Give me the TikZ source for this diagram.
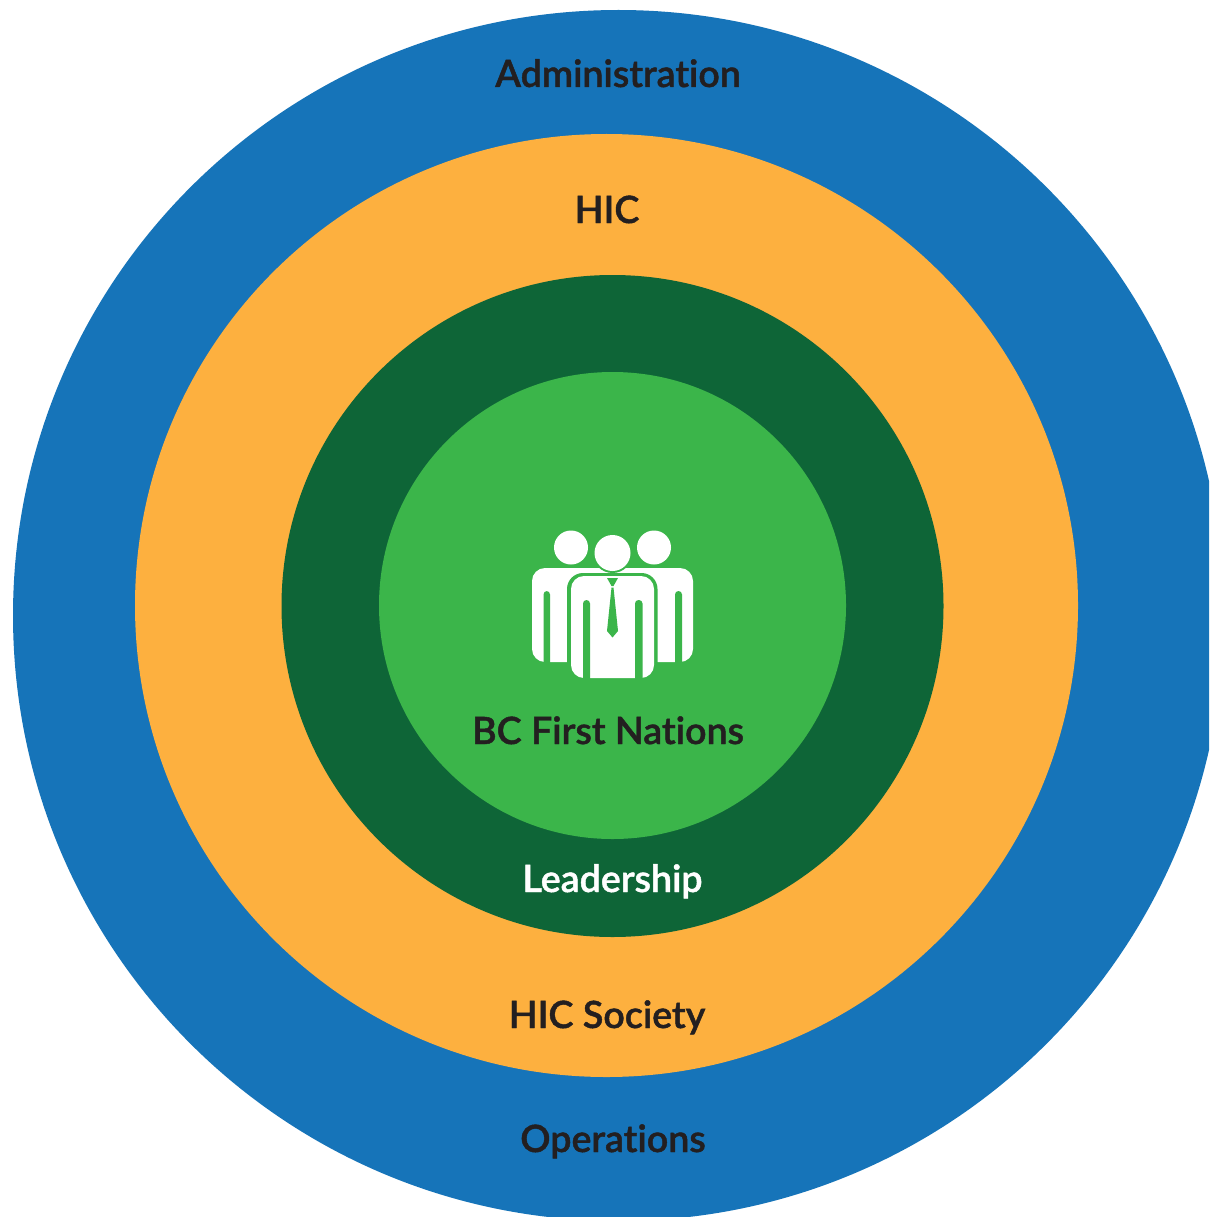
\documentclass[tikz,border=0pt]{standalone}
\usepackage{fontspec}
\setmainfont{Lato}[UprightFont=*-Semibold,BoldFont=*-Semibold,BoldFeatures={FakeBold=1.2},Ligatures=NoCommon]
\definecolor{ringblue}{HTML}{1674B9}
\definecolor{ringorange}{HTML}{FDB03F}
\definecolor{ringdark}{HTML}{0E6537}
\definecolor{ringlight}{HTML}{3BB54A}
\definecolor{labeldark}{HTML}{231F20}
\tikzset{
  ringlabel/.style={font=\fontsize{37.6}{42}\selectfont\bfseries,text=labeldark,inner sep=0pt,anchor=base},
  person/.style={fill=white,draw=none},
  gap/.style={fill=ringlight,draw=none,rounded corners=3.5pt},
}
\begin{document}
\begin{tikzpicture}[x=1pt,y=-1pt]
\useasboundingbox (0,0) rectangle (1209,1217);
\clip (0,0) rectangle (1209,1217);
\fill[white] (0,0) rectangle (1209,1217);
\fill[ringblue] (618.5,615.5) circle[radius=605.5];
\fill[ringorange] (606.5,605.5) circle[radius=471.5];
\fill[ringdark] (612.5,606) circle[radius=331];
\fill[ringlight] (612.5,605.5) circle[radius=233.5];
% side people
\fill[person] (571,547.5) circle[radius=17];
\fill[person] (654,547.5) circle[radius=17];
\fill[person,rounded corners=13pt] (532,662) -- (532,568) -- (693,568) -- (693,662) -- cycle;
% side arm gaps, open at the bottom
\fill[gap] (543.5,675) -- (543.5,591) -- (550,591) -- (550,675) -- cycle;
\fill[gap] (675,675) -- (675,591) -- (682,591) -- (682,675) -- cycle;
% centre figure halo
\fill[ringlight,rounded corners=16pt] (567,684) -- (567,573) -- (657.5,573) -- (657.5,684) -- cycle;
% centre person
\fill[ringlight] (612.5,553) circle[radius=20];
\fill[person] (612.5,553) circle[radius=18];
\fill[person,rounded corners=13pt] (571,678) -- (571,576) -- (654,576) -- (654,678) -- cycle;
\fill[gap] (583,690) -- (583,600) -- (590,600) -- (590,690) -- cycle;
\fill[gap] (635,690) -- (635,600) -- (642.5,600) -- (642.5,690) -- cycle;
% tie
\fill[ringlight] (607,578) -- (618,578) -- (613.5,586) -- (611.5,586) -- cycle;
\fill[ringlight] (611.5,587.5) -- (613.5,587.5) -- (618,631) -- (612.5,637.5) -- (607,631) -- cycle;
% labels
\node[ringlabel] (adm) at (618,87) {Administration};
\node[ringlabel] (hic) at (607,223) {HIC};
\node[ringlabel] (bc) at (608,744) {BC First Nations};
\node[ringlabel,text=white] (lead) at (612.5,892) {Leadership};
\node[ringlabel] (soc) at (607,1028) {HIC Society};
\node[ringlabel] (ops) at (613,1152) {Operations};
\end{tikzpicture}
\end{document}
